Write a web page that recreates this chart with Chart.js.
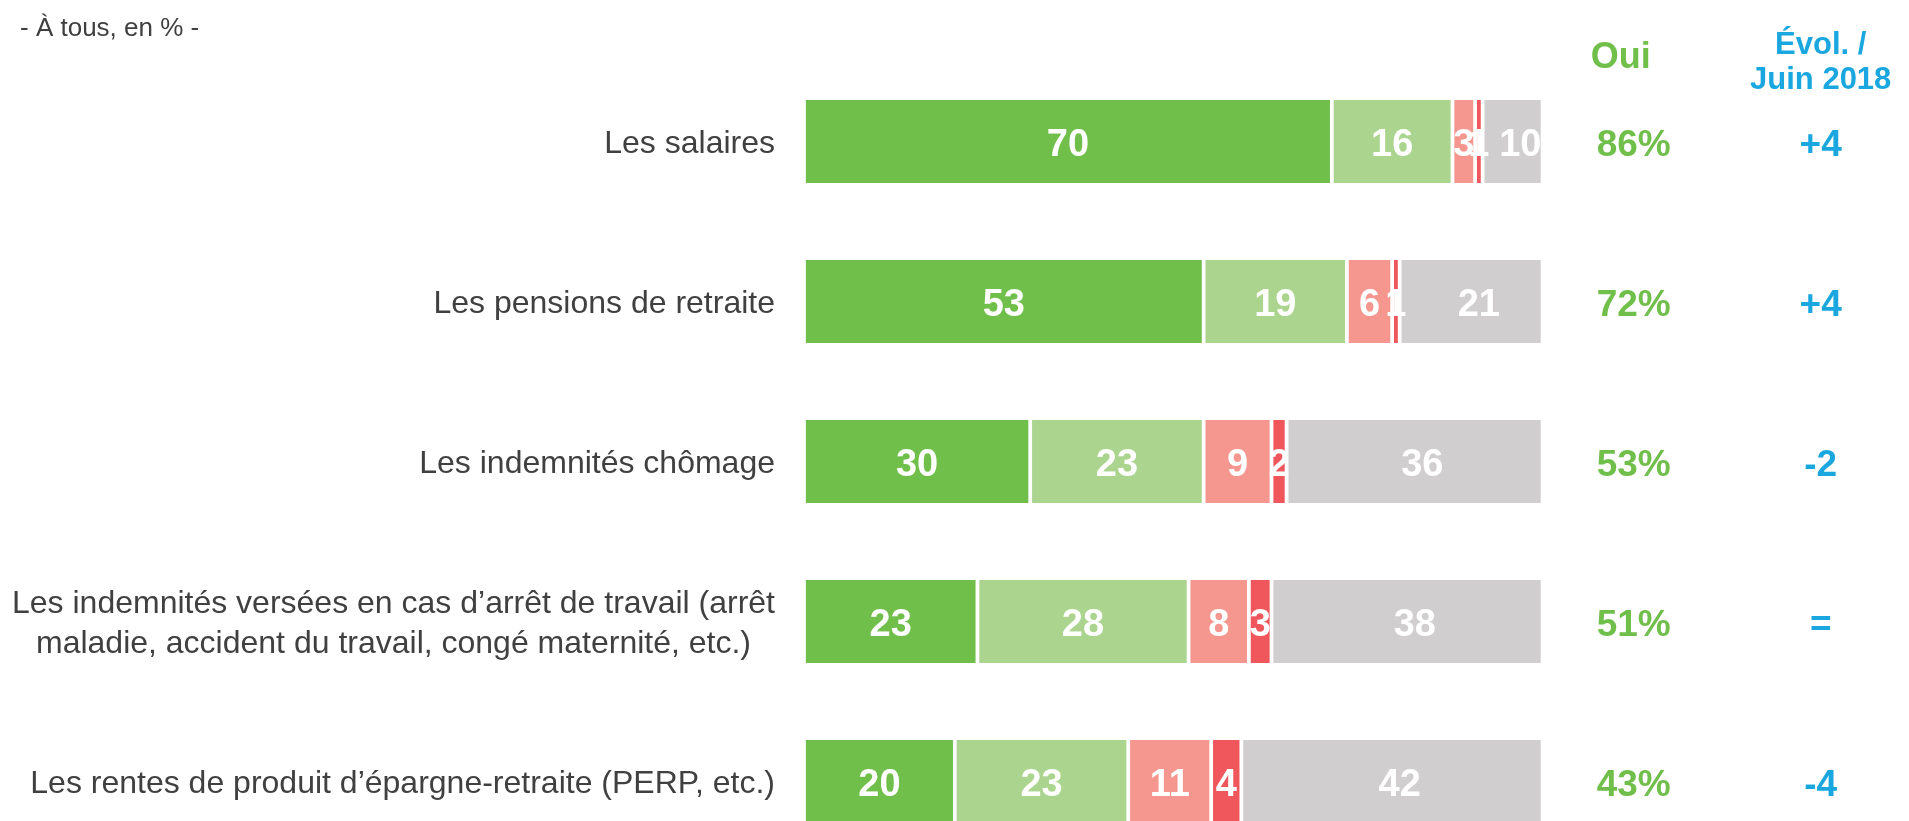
<!DOCTYPE html>
<html>
<head>
<meta charset="utf-8">
<script src="https://cdn.jsdelivr.net/npm/chart.js@4.4.1/dist/chart.umd.min.js"></script>
<style>
html,body{margin:0;padding:0;background:#ffffff;overflow:hidden}
#wrap{position:relative;width:1909px;height:821px}
</style>
</head>
<body>
<div id="wrap"><canvas id="c"></canvas></div>
<script>
// ---- data ----
const categories = [
  ["Les salaires"],
  ["Les pensions de retraite"],
  ["Les indemnités chômage"],
  ["Les indemnités versées en cas d’arrêt de travail (arrêt", "maladie, accident du travail, congé maternité, etc.)"],
  ["Les rentes de produit d’épargne-retraite (PERP, etc.)"]
];
const seriesNames = ["Oui, tout à fait", "Oui, plutôt", "Non, plutôt pas", "Non, pas du tout", "Ne sait pas"];
const ouiToutAFait = [70, 53, 30, 23, 20];
const ouiPlutot = [16, 19, 23, 28, 23];
const nonPlutotPas = [3, 6, 9, 8, 11];
const nonPasDuTout = [1, 1, 2, 3, 4];
const neSaitPas = [10, 21, 36, 38, 42];
const ouiTotals = [86, 72, 53, 51, 43];
const evolution = ["+4", "+4", "-2", "=", "-4"];
const subtitle = "- À tous, en % -";
const headerOui = "Oui";
const headerEvol = ["Évol. /", "Juin 2018"];

// ---- styles ----
const FONT = '"Liberation Sans", Arial, Helvetica, sans-serif';
const seriesColors = ["#71BF4B", "#ABD48F", "#F5978F", "#F0575C", "#D0CECF"];
const GREEN_TEXT = "#71BF4B";
const BLUE_TEXT = "#1AA7DF";
const GREY_TEXT = "#404040";

const seriesValues = [ouiToutAFait, ouiPlutot, nonPlutotPas, nonPasDuTout, neSaitPas];

const annotations = {
  id: "annotations",
  afterDatasetsDraw(chart) {
    const ctx = chart.ctx;
    const area = chart.chartArea;
    // values inside bars
    ctx.save();
    ctx.beginPath();
    ctx.rect(area.left, 0, area.right - area.left, chart.height);
    ctx.clip();
    ctx.font = "bold 38px " + FONT;
    ctx.fillStyle = "#ffffff";
    ctx.textAlign = "center";
    ctx.textBaseline = "alphabetic";
    chart.data.datasets.forEach((ds, i) => {
      const meta = chart.getDatasetMeta(i);
      meta.data.forEach((el, j) => {
        const cx = (el.x + el.base) / 2;
        ctx.fillText(String(ds.data[j]), cx, el.y + 14);
      });
    });
    ctx.restore();
  },
  afterDraw(chart) {
    const ctx = chart.ctx;
    const area = chart.chartArea;
    const yScale = chart.scales.y;
    ctx.save();
    // subtitle
    ctx.font = "26px " + FONT;
    ctx.fillStyle = GREY_TEXT;
    ctx.textAlign = "left";
    ctx.textBaseline = "alphabetic";
    ctx.fillText(subtitle, 20, 36);

    // category labels (block right-aligned, lines centered)
    ctx.font = "32px " + FONT;
    ctx.fillStyle = GREY_TEXT;
    ctx.textAlign = "center";
    const labelRight = area.left - 29;
    categories.forEach((lines, i) => {
      const yc = yScale.getPixelForValue(i);
      const w = Math.max(...lines.map(l => ctx.measureText(l).width));
      const cx = labelRight - w / 2;
      const lh = 40;
      const y0 = yc + 11 - (lines.length - 1) * lh / 2;
      lines.forEach((l, k) => ctx.fillText(l, cx, y0 + k * lh));
    });

    // right columns
    const ouiX = area.right + 93;
    const ouiHeadX = area.right + 80;
    const evolX = area.right + 280;
    ctx.textAlign = "center";
    ctx.font = "bold 36px " + FONT;
    ctx.fillStyle = GREEN_TEXT;
    ctx.fillText(headerOui, ouiHeadX, 68);
    ctx.font = "bold 31px " + FONT;
    ctx.fillStyle = BLUE_TEXT;
    ctx.fillText(headerEvol[0], evolX, 54);
    ctx.fillText(headerEvol[1], evolX, 89);

    ouiTotals.forEach((v, i) => {
      const yc = yScale.getPixelForValue(i);
      ctx.font = "bold 37px " + FONT;
      ctx.fillStyle = GREEN_TEXT;
      ctx.fillText(v + "%", ouiX, yc + 14);
      ctx.font = "bold 37px " + FONT;
      ctx.fillStyle = BLUE_TEXT;
      ctx.fillText(evolution[i], evolX, yc + 14);
    });
    ctx.restore();
  }
};

new Chart(document.getElementById("c"), {
  type: "bar",
  data: {
    labels: categories.map(c => c.join(" ")),
    datasets: seriesNames.map((name, i) => ({
      label: name,
      data: seriesValues[i],
      backgroundColor: seriesColors[i],
      borderColor: "#ffffff",
      borderWidth: { left: 2.2, right: 2.2, top: 0, bottom: 0 },
      borderSkipped: false,
      barThickness: 83,
      clip: { left: false, right: 0, top: false, bottom: false }
    }))
  },
  options: {
    indexAxis: "y",
    responsive: true,
    maintainAspectRatio: false,
    animation: false,
    layout: { padding: { left: 804, right: 368.3, top: 141.5, bottom: 39.5 } },
    scales: {
      x: { stacked: true, min: 0, max: 97.7, display: false, grid: { display: false } },
      y: { stacked: true, offset: false, display: false, grid: { display: false } }
    },
    plugins: {
      legend: { display: false },
      tooltip: { enabled: false }
    }
  },
  plugins: [annotations]
});
</script>
</body>
</html>
